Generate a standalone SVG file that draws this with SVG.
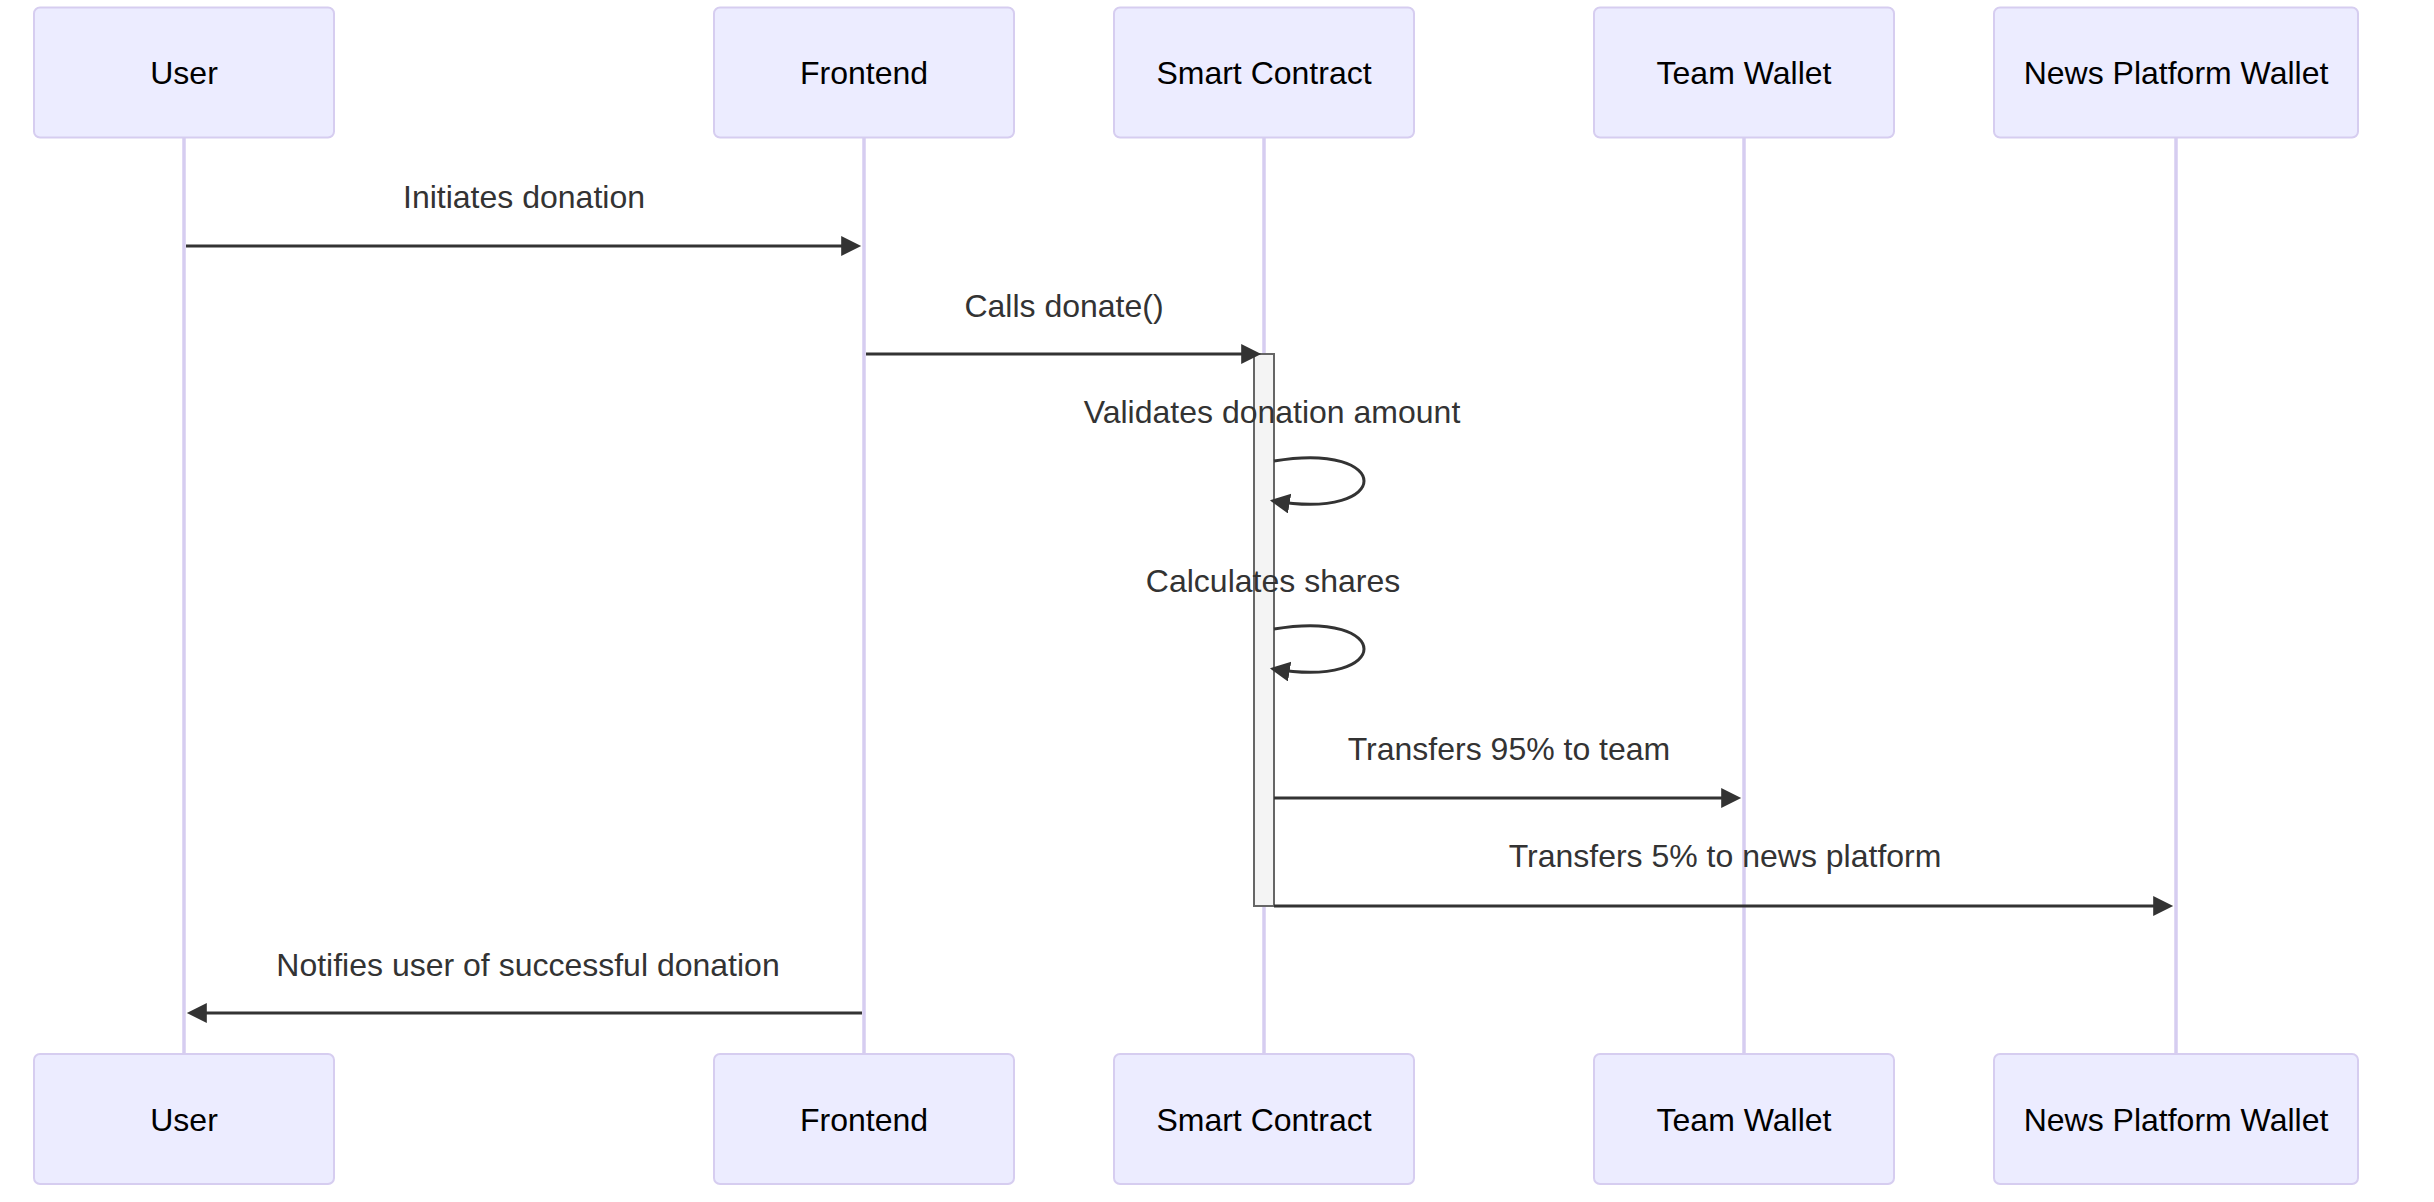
<svg xmlns="http://www.w3.org/2000/svg" width="2434" height="1202" viewBox="0 0 2434 1202">
<style>
.actor{fill:#ECECFF;stroke:#D6CDF0;stroke-width:2}
.atext{font-family:"Liberation Sans",Arial,sans-serif;font-size:32px;fill:#000;text-anchor:middle}
.life{stroke:#D6CDF0;stroke-width:3.5}
.msg{stroke:#333;stroke-width:3;fill:none}
.mtext{font-family:"Liberation Sans",Arial,sans-serif;font-size:32px;fill:#333;text-anchor:middle}
.act{fill:#F4F4F4;stroke:#666;stroke-width:2}
</style>
<defs>
<marker id="arrowhead" markerUnits="userSpaceOnUse" markerWidth="24" markerHeight="24" refX="15.8" refY="10" orient="auto-start-reverse">
<path d="M 0 0 L 20 10 L 0 20 z" fill="#333"/>
</marker>
</defs>
<rect width="2434" height="1202" fill="#fff"/>
<g id="lifelines">
<line class="life" x1="184" y1="137" x2="184" y2="1054"/>
<line class="life" x1="864" y1="137" x2="864" y2="1054"/>
<line class="life" x1="1264" y1="137" x2="1264" y2="1054"/>
<line class="life" x1="1744" y1="137" x2="1744" y2="1054"/>
<line class="life" x1="2176" y1="137" x2="2176" y2="1054"/>
</g>
<g id="actor-user-top"><rect class="actor" x="34" y="7.5" width="300" height="130" rx="6"/><text class="atext" x="184" y="84">User</text></g>
<g id="actor-frontend-top"><rect class="actor" x="714" y="7.5" width="300" height="130" rx="6"/><text class="atext" x="864" y="84">Frontend</text></g>
<g id="actor-contract-top"><rect class="actor" x="1114" y="7.5" width="300" height="130" rx="6"/><text class="atext" x="1264" y="84">Smart Contract</text></g>
<g id="actor-team-top"><rect class="actor" x="1594" y="7.5" width="300" height="130" rx="6"/><text class="atext" x="1744" y="84">Team Wallet</text></g>
<g id="actor-news-top"><rect class="actor" x="1994" y="7.5" width="364" height="130" rx="6"/><text class="atext" x="2176" y="84">News Platform Wallet</text></g>
<g id="actor-user-bottom"><rect class="actor" x="34" y="1054" width="300" height="130" rx="6"/><text class="atext" x="184" y="1131">User</text></g>
<g id="actor-frontend-bottom"><rect class="actor" x="714" y="1054" width="300" height="130" rx="6"/><text class="atext" x="864" y="1131">Frontend</text></g>
<g id="actor-contract-bottom"><rect class="actor" x="1114" y="1054" width="300" height="130" rx="6"/><text class="atext" x="1264" y="1131">Smart Contract</text></g>
<g id="actor-team-bottom"><rect class="actor" x="1594" y="1054" width="300" height="130" rx="6"/><text class="atext" x="1744" y="1131">Team Wallet</text></g>
<g id="actor-news-bottom"><rect class="actor" x="1994" y="1054" width="364" height="130" rx="6"/><text class="atext" x="2176" y="1131">News Platform Wallet</text></g>
<g id="activation"><rect class="act" x="1254" y="354" width="20" height="552"/></g>
<g id="connectors">
<line class="msg" x1="186" y1="246" x2="857" y2="246" marker-end="url(#arrowhead)"/>
<line class="msg" x1="866" y1="354" x2="1257" y2="354" marker-end="url(#arrowhead)"/>
<path class="msg" d="M 1274 461 C 1394 441 1394 521 1274 501" marker-end="url(#arrowhead)"/>
<path class="msg" d="M 1274 629 C 1394 609 1394 689 1274 669" marker-end="url(#arrowhead)"/>
<line class="msg" x1="1274" y1="798" x2="1737" y2="798" marker-end="url(#arrowhead)"/>
<line class="msg" x1="1274" y1="906" x2="2169" y2="906" marker-end="url(#arrowhead)"/>
<line class="msg" x1="862" y1="1013" x2="191" y2="1013" marker-end="url(#arrowhead)"/>
</g>
<g id="labels">
<text class="mtext" x="524" y="208">Initiates donation</text>
<text class="mtext" x="1064" y="317">Calls donate()</text>
<text class="mtext" x="1272" y="423">Validates donation amount</text>
<text class="mtext" x="1273" y="592">Calculates shares</text>
<text class="mtext" x="1509" y="760">Transfers 95% to team</text>
<text class="mtext" x="1725" y="867">Transfers 5% to news platform</text>
<text class="mtext" x="528" y="976">Notifies user of successful donation</text>
</g>
</svg>
